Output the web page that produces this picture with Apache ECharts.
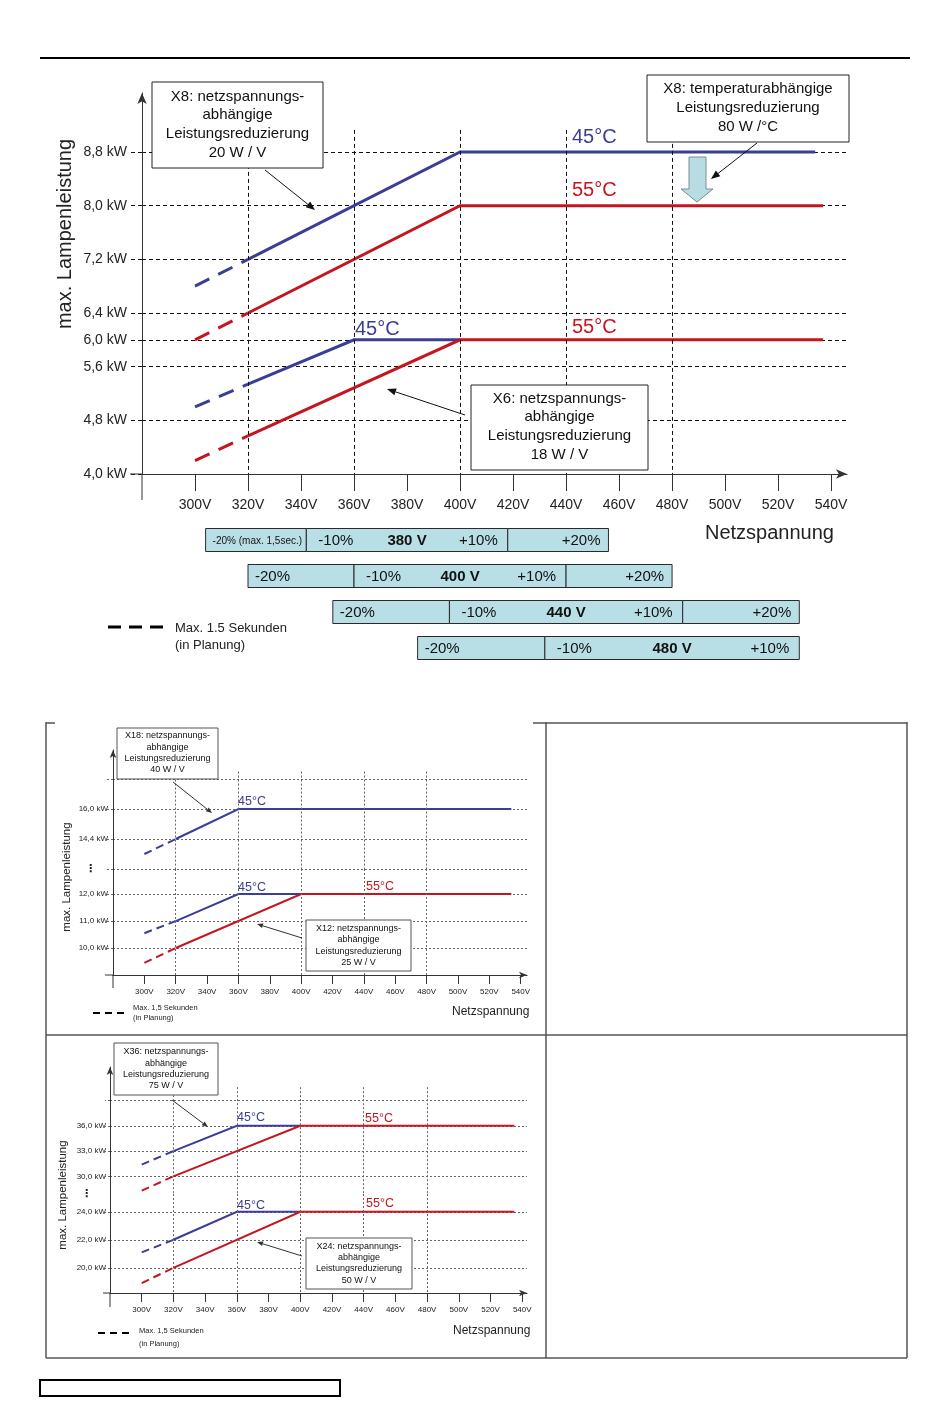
<!DOCTYPE html>
<html><head><meta charset="utf-8">
<script src="https://cdn.jsdelivr.net/npm/echarts@6/dist/echarts.min.js"></script>
<style>html,body{margin:0;padding:0;background:#fff}#c{width:950px;height:1420px}</style>
</head><body><div id="c"></div>
<script>
// ================= DATA =================
const voltTicks = [300,320,340,360,380,400,420,440,460,480,500,520,540];
const voltGridLines = [320,360,400,440,480];

// Top chart: X8 / X6 (kW over V)
const topKwTicks = [4.0,4.8,5.6,6.0,6.4,7.2,8.0,8.8];
const x8_45_dash = [[300,6.8],[320,7.2]];
const x8_45      = [[320,7.2],[400,8.8],[534,8.8]];
const x8_55_dash = [[300,6.0],[320,6.4]];
const x8_55      = [[320,6.4],[400,8.0],[537,8.0]];
const x6_45_dash = [[300,5.0],[320,5.34]];
const x6_45      = [[320,5.34],[360,6.0],[400,6.0]];
const x6_55_dash = [[300,4.2],[320,4.57]];
const x6_55      = [[320,4.57],[400,6.0],[537,6.0]];

// Mains voltage tolerance bands
const nominalVolts = [380,400,440,480];
const bandEdges = [[-20,-10,10,20],[-20,-10,10,20],[-20,-10,10,20],[-20,-10,10]];
const bandTexts = [
  ['-20% (max. 1,5sec.)','-10%','380 V','+10%','+20%'],
  ['-20%','-10%','400 V','+10%','+20%'],
  ['-20%','-10%','440 V','+10%','+20%'],
  ['-20%','-10%','480 V','+10%']
];

// Middle chart: X18 / X12
const midUpperTicks  = [12.8,14.4,16.0,17.6];
const midUpperLabels = [12.8,14.4,16.0];
const midLowerTicks  = [10,11,12];
const x18_45_dash = [[300,13.6],[320,14.4]];
const x18_45      = [[320,14.4],[360,16.0],[534,16.0]];
const x12_45_dash = [[300,10.55],[320,11.0]];
const x12_45      = [[320,11.0],[360,12.0],[400,12.0]];
const x12_55_dash = [[300,9.45],[320,10.0]];
const x12_55      = [[320,10.0],[400,12.0],[534,12.0]];

// Bottom chart: X36 / X24
const botUpperTicks  = [30,33,36,39];
const botUpperLabels = [27.9,30,33,36];
const botLowerTicks  = [20,22,24];
const x36_45_dash = [[300,31.4],[320,33.0]];
const x36_45      = [[320,33.0],[360,36.0],[400,36.0]];
const x36_55_dash = [[300,28.3],[320,30.0]];
const x36_55      = [[320,30.0],[400,36.0],[535,36.0]];
const x24_45_dash = [[300,21.1],[320,22.0]];
const x24_45      = [[320,22.0],[360,24.0],[400,24.0]];
const x24_55_dash = [[300,18.9],[320,20.0]];
const x24_55      = [[320,20.0],[400,24.0],[535,24.0]];

// ================= LAYOUT / STYLE =================
const F = '"Liberation Sans", Arial, sans-serif';
const BLUE = '#3b3e95', RED = '#c4161f';
const G = {
  top:  {left:142, top:93,   width:705, height:381, xMin:280, xMax:546, yMin:4.0,  yMax:9.68},
  band: {left:142, top:522,  width:705, height:144, xMin:280, xMax:546},
  midU: {left:113, top:750,  width:414, height:119, xMin:280, xMax:544, yMin:12.8, yMax:19.15},
  midL: {left:113, top:869,  width:414, height:106, xMin:280, xMax:544, yMin:9.0,  yMax:12.93},
  botU: {left:110, top:1067, width:417, height:127, xMin:280, xMax:543, yMin:27.9, yMax:43.0},
  botL: {left:110, top:1194, width:417, height:99,  xMin:280, xMax:543, yMin:18.2, yMax:25.27}
};
const order = ['top','band','midU','midL','botU','botL'];
const kw = v => v.toFixed(1).replace('.', ',') + ' kW';

const grids = order.map(k => ({left:G[k].left, top:G[k].top, width:G[k].width, height:G[k].height, outerBoundsMode:'none', containLabel:false}));

const topGridStyle = {color:'#111', type:[4,3], width:1};
const smallGridStyle = {color:'#666', type:[2,2], width:1};

function xAxisFull(gi, g, big) {
  return {gridIndex:gi, type:'value', min:g.xMin, max:g.xMax,
    axisLine:{show:true, symbol:['none','arrow'], symbolSize: big?[7,11]:[5,8], lineStyle:{color:'#333', width:1}},
    axisTick:{show:true, customValues:voltTicks, length: big?17:9, lineStyle:{color:'#333', width:1}},
    axisLabel:{show:true, customValues:voltTicks, formatter:v=>v+'V', margin: big?24:13, fontSize: big?14:8, color:'#222', fontFamily:F},
    splitLine:{show:false}};
}
function xAxisHidden(gi, g) { return {gridIndex:gi, type:'value', min:g.xMin, max:g.xMax, show:false, splitLine:{show:false}}; }
function yAxisV(gi, g, ticks, labels, opt) {
  return {gridIndex:gi, type:'value', min:g.yMin, max:g.yMax,
    axisLine:{show:true, symbol: opt.arrow?['none','arrow']:['none','none'], symbolSize: opt.big?[7,11]:[5,8], lineStyle:{color:'#333', width:1}},
    axisTick:{show:true, customValues:ticks, length:opt.tick, lineStyle:opt.style},
    axisLabel:{show:true, customValues:labels, formatter: v => (opt.brk!==undefined && Math.abs(v-opt.brk)<1e-6) ? '{b|⋮}' : kw(v),
      margin:opt.margin, fontSize:opt.fs, color:'#222', fontFamily:F,
      rich:{b:{fontSize:opt.big?14:11, fontWeight:'bold', color:'#222', padding:[0,opt.pad||0,0,0], fontFamily:'"DejaVu Sans", sans-serif'}}},
    splitLine:{show:true, lineStyle:opt.style}};
}

const xAxes = [
  xAxisFull(0, G.top, true),
  xAxisHidden(1, G.band),
  xAxisHidden(2, G.midU),
  xAxisFull(3, G.midL, false),
  xAxisHidden(4, G.botU),
  xAxisFull(5, G.botL, false)
];
const yAxes = [
  yAxisV(0, G.top, topKwTicks, topKwTicks, {arrow:true, big:true, tick:14, style:topGridStyle, margin:15, fs:14}),
  {gridIndex:1, type:'category', data:nominalVolts.map(String), inverse:true, show:false},
  yAxisV(2, G.midU, midUpperTicks, midUpperLabels, {arrow:true, tick:6, style:smallGridStyle, margin:5, fs:8, brk:12.8, pad:12}),
  yAxisV(3, G.midL, midLowerTicks, midLowerTicks, {arrow:false, tick:6, style:smallGridStyle, margin:5, fs:8}),
  yAxisV(4, G.botU, botUpperTicks, botUpperLabels, {arrow:true, tick:5, style:smallGridStyle, margin:4, fs:8, brk:27.9, pad:14}),
  yAxisV(5, G.botL, botLowerTicks, botLowerTicks, {arrow:false, tick:5, style:smallGridStyle, margin:4, fs:8})
];

function ln(ai, data, color, width, dash) {
  return {type:'line', xAxisIndex:ai, yAxisIndex:ai, data, symbol:'none', showSymbol:false, silent:true, animation:false,
    lineStyle:{color, width, type: dash || 'solid', cap:'butt', join:'miter'}, z:3};
}
function vGrid(ai, yTop, yBot, style) {
  return {type:'line', xAxisIndex:ai, yAxisIndex:ai, data:[], silent:true, animation:false, z:1,
    markLine:{silent:true, animation:false, symbol:['none','none'], label:{show:false}, lineStyle:style, emphasis:{disabled:true},
      data: voltGridLines.map(v => [{coord:[v, yTop]}, {coord:[v, yBot]}])}};
}

const bigDash = [16,10], smallDash = [8,5];
const series = [
  vGrid(0, 9.13, G.top.yMin, topGridStyle),
  ln(0, x8_45_dash, BLUE, 3, bigDash), ln(0, x8_45, BLUE, 3),
  ln(0, x8_55_dash, RED, 3, bigDash),  ln(0, x8_55, RED, 3),
  ln(0, x6_45_dash, BLUE, 3, bigDash), ln(0, x6_45, BLUE, 3),
  ln(0, x6_55_dash, RED, 3, bigDash),  ln(0, x6_55, RED, 3),
  {type:'custom', xAxisIndex:1, yAxisIndex:1, silent:true, animation:false,
   data: nominalVolts.map(v => [v, String(v)]),
   renderItem: function(params, api) {
     const i = params.dataIndex;
     const v = api.value(0), row = api.value(1);
     const xs = bandEdges[i].map(p => api.coord([v*(1+p/100), row])[0]);
     const c = api.coord([v, row]);
     const h = 23, y0 = c[1] - h/2;
     const t = bandTexts[i];
     const ch = [];
     for (let k = 0; k < xs.length-1; k++) {
       ch.push({type:'rect', shape:{x:xs[k], y:y0, width:xs[k+1]-xs[k], height:h}, style:{fill:'#b9dfe6', stroke:'#2a2a2a', lineWidth:1}});
     }
     const mk = (s, x, al, font) => ({type:'text', style:{text:s, x:x, y:c[1]+1, align:al, textAlign:al, verticalAlign:'middle', textVerticalAlign:'middle', font:font, fill:'#111'}});
     ch.push(mk(t[0], xs[0]+7, 'left', (i===0?'10px ':'15px ')+F));
     ch.push(mk(t[1], xs[1]+12, 'left', '15px '+F));
     ch.push(mk(t[2], c[0], 'center', 'bold 15px '+F));
     ch.push(mk(t[3], xs[2]-10, 'right', '15px '+F));
     if (t[4]) ch.push(mk(t[4], xs[3]-8, 'right', '15px '+F));
     return {type:'group', children:ch};
   }},
  vGrid(2, 18.0, G.midU.yMin, smallGridStyle),
  vGrid(3, G.midL.yMax, G.midL.yMin, smallGridStyle),
  ln(2, x18_45_dash, BLUE, 2, smallDash), ln(2, x18_45, BLUE, 2),
  ln(3, x12_45_dash, BLUE, 2, smallDash), ln(3, x12_45, BLUE, 2),
  ln(3, x12_55_dash, RED, 2, smallDash),  ln(3, x12_55, RED, 2),
  vGrid(4, 40.6, G.botU.yMin, smallGridStyle),
  vGrid(5, G.botL.yMax, G.botL.yMin, smallGridStyle),
  ln(4, x36_45_dash, BLUE, 2, smallDash), ln(4, x36_45, BLUE, 2),
  ln(4, x36_55_dash, RED, 2, smallDash),  ln(4, x36_55, RED, 2),
  ln(5, x24_45_dash, BLUE, 2, smallDash), ln(5, x24_45, BLUE, 2),
  ln(5, x24_55_dash, RED, 2, smallDash),  ln(5, x24_55, RED, 2)
];

// ================= GRAPHIC ANNOTATIONS =================
const gfx = [];
function txt(s, x, y, size, color, align, opts) {
  opts = opts || {};
  gfx.push({type:'text', x:x, y:y, rotation:opts.rot||0, z:100, silent:true,
    style:{text:s, fill:color||'#222', font:(opts.bold?'bold ':'')+size+'px '+F, align:align||'left', textAlign:align||'left',
      verticalAlign:'middle', textVerticalAlign:'middle', lineHeight:opts.lh}});
}
function box(x, y, w, h, stroke) {
  gfx.push({type:'rect', z:99, silent:true, shape:{x:x, y:y, width:w, height:h}, style:{fill:'#fff', stroke:stroke||'#222', lineWidth:1}});
}
function seg(x1, y1, x2, y2, color, w, dash) {
  gfx.push({type:'line', z:98, silent:true, shape:{x1:x1, y1:y1, x2:x2, y2:y2}, style:{stroke:color||'#333', lineWidth:w||1, lineDash:dash||null}});
}
function arrow(x1, y1, x2, y2, color, size) {
  const a = Math.atan2(y2-y1, x2-x1), L = size, W = size*0.4;
  const bx = x2 - L*Math.cos(a), by = y2 - L*Math.sin(a);
  const px = -Math.sin(a)*W, py = Math.cos(a)*W;
  seg(x1, y1, bx, by, color, 1);
  gfx.push({type:'polygon', z:101, silent:true, shape:{points:[[x2,y2],[bx+px,by+py],[bx-px,by-py]]}, style:{fill:color}});
}
function lines(arr, cx, ys, size, color) { arr.forEach((s, k) => txt(s, cx, ys[k], size, color||'#111', 'center')); }

// page decorations
seg(40, 58, 910, 58, '#000', 2);
gfx.push({type:'rect', z:99, silent:true, shape:{x:40, y:1380, width:300, height:16}, style:{fill:'none', stroke:'#000', lineWidth:2}});
// table
const TB = '#555';
seg(46, 722, 46, 1358, TB, 1.5); seg(907, 722, 907, 1358, TB, 1.5); seg(546, 722, 546, 1358, TB, 1.5);
seg(46, 1035, 907, 1035, TB, 1.5); seg(46, 1358, 907, 1358, TB, 1.5);
seg(46, 723, 55, 723, TB, 1.5); seg(533, 723, 907, 723, TB, 1.5);

// axis stubs (extend axes past the origin)
function stubs(gU, gL, dy, dx) {
  const ox = gL.left, oy = gL.top + gL.height;
  seg(ox, oy, ox, oy+dy, '#333', 1);
  seg(ox-dx, oy, ox, oy, '#333', 1);
}
stubs(G.top, G.top, 26, 12);
stubs(G.midU, G.midL, 13, 8);
stubs(G.botU, G.botL, 14, 7);

// ---- top chart texts
txt('max. Lampenleistung', 65, 234, 20, '#222', 'center', {rot:Math.PI/2});
txt('Netzspannung', 705, 533, 20, '#222', 'left');
txt('45°C', 572, 137, 20, BLUE); txt('55°C', 572, 190, 20, RED);
txt('45°C', 355, 329, 20, BLUE); txt('55°C', 572, 327, 20, RED);
box(152, 82, 171, 86);
lines(['X8: netzspannungs-','abhängige','Leistungsreduzierung','20 W / V'], 237.5, [97,115,134,153], 15);
arrow(265, 170, 315, 210, '#111', 9);
box(647, 75, 202, 67);
lines(['X8: temperaturabhängige','Leistungsreduzierung','80 W /°C'], 748, [89,108,127], 15);
arrow(757, 143, 711, 179, '#111', 9);
gfx.push({type:'polygon', z:100, silent:true, shape:{points:[[689,157],[706,157],[706,189],[713,189],[697,202],[681,189],[689,189]]}, style:{fill:'#b7dce4', stroke:'#7d8c90', lineWidth:1}});
box(471, 385, 177, 85);
lines(['X6: netzspannungs-','abhängige','Leistungsreduzierung','18 W / V'], 559.5, [399,417,436,455], 15);
arrow(465, 415, 387, 389, '#111', 9);
seg(108, 627, 163, 627, '#000', 3, [13,8]);
txt('Max. 1.5 Sekunden', 175, 628, 13, '#222'); txt('(in Planung)', 175, 645, 13, '#222');

// ---- middle chart texts
txt('max. Lampenleistung', 67, 877, 11.5, '#222', 'center', {rot:Math.PI/2});
txt('Netzspannung', 452, 1012, 12, '#222', 'left');
txt('45°C', 238, 802, 12.5, BLUE); txt('45°C', 238, 888, 12.5, BLUE); txt('55°C', 366, 887, 12.5, RED);
box(117, 728, 101, 51, '#555');
lines(['X18: netzspannungs-','abhängige','Leistungsreduzierung','40 W / V'], 167.5, [736,748,759,770], 9);
arrow(173, 782, 212, 813, '#333', 6);
box(306, 920, 105, 51, '#555');
lines(['X12: netzspannungs-','abhängige','Leistungsreduzierung','25 W / V'], 358.5, [929,940,952,963], 9);
arrow(302, 938, 257, 924, '#333', 6);
seg(93, 1013, 125, 1013, '#000', 2, [7,5]);
txt('Max. 1,5 Sekunden', 133, 1008, 7.5, '#222'); txt('(in Planung)', 133, 1018, 7.5, '#222');

// ---- bottom chart texts
txt('max. Lampenleistung', 63, 1195, 11.5, '#222', 'center', {rot:Math.PI/2});
txt('Netzspannung', 453, 1331, 12, '#222', 'left');
txt('45°C', 237, 1118, 12.5, BLUE); txt('55°C', 365, 1119, 12.5, RED);
txt('45°C', 237, 1206, 12.5, BLUE); txt('55°C', 366, 1204, 12.5, RED);
box(114, 1043, 104, 52, '#555');
lines(['X36: netzspannungs-','abhängige','Leistungsreduzierung','75 W / V'], 166, [1052,1064,1075,1086], 9);
arrow(172, 1100, 208, 1127, '#333', 6);
box(306, 1238, 106, 51, '#555');
lines(['X24: netzspannungs-','abhängige','Leistungsreduzierung','50 W / V'], 359, [1247,1258,1269,1281], 9);
arrow(302, 1256, 257, 1242, '#333', 6);
seg(98, 1333, 132, 1333, '#000', 2, [7,5]);
txt('Max. 1,5 Sekunden', 139, 1331, 7.5, '#222'); txt('(in Planung)', 139, 1344, 7.5, '#222');

const chart = echarts.init(document.getElementById('c'), null, {renderer:'canvas'});
chart.setOption({
  animation:false,
  backgroundColor:'#fff',
  textStyle:{fontFamily:F},
  grid: grids,
  xAxis: xAxes,
  yAxis: yAxes,
  series: series,
  graphic: gfx
});
</script></body></html>
